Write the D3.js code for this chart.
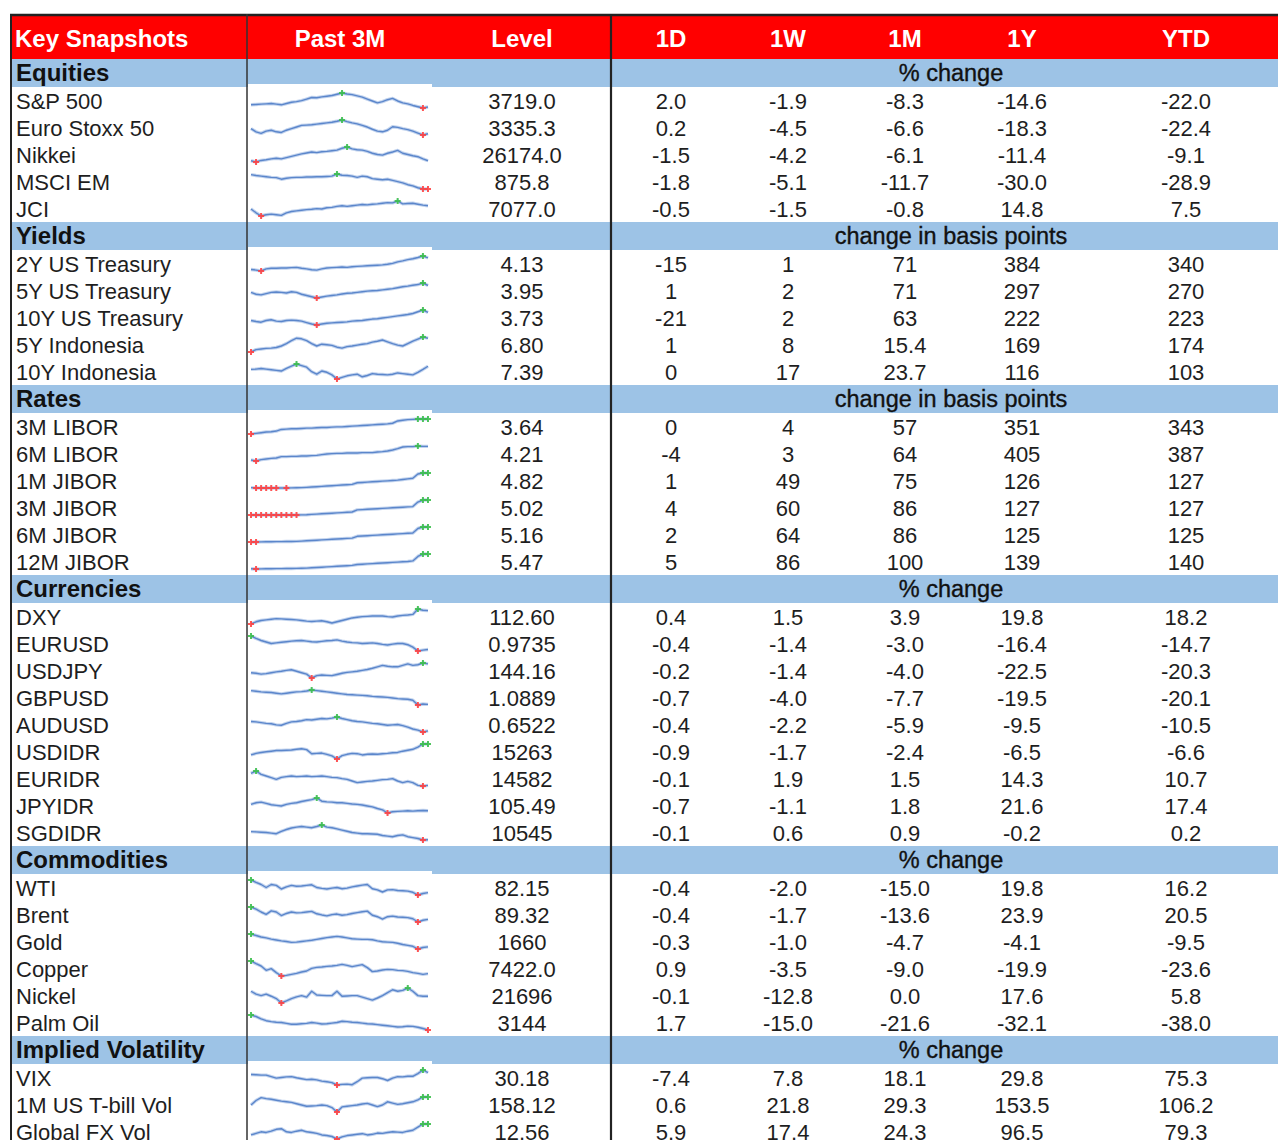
<!DOCTYPE html>
<html>
<head>
<meta charset="utf-8">
<script src="https://cdn.jsdelivr.net/npm/d3@7"></script>
<style>
html, body { margin: 0; padding: 0; background: #fff; }
svg { display: block; font-family: "Liberation Sans", Arial, Helvetica, sans-serif; }
</style>
</head>
<body>
<svg id="chart" width="1278" height="1140"></svg>
<script>
// ---- table data ----
const columns = ["Key Snapshots", "Past 3M", "Level", "1D", "1W", "1M", "1Y", "YTD"];
const sectionNames = ["Equities", "Yields", "Rates", "Currencies", "Commodities", "Implied Volatility"];
const sectionUnits = ["% change", "change in basis points", "change in basis points", "% change", "% change", "% change"];
const sectionSizes = [5, 5, 6, 9, 6, 3];

const rowNames = ["S&P 500", "Euro Stoxx 50", "Nikkei", "MSCI EM", "JCI",
    "2Y US Treasury", "5Y US Treasury", "10Y US Treasury", "5Y Indonesia", "10Y Indonesia",
    "3M LIBOR", "6M LIBOR", "1M JIBOR", "3M JIBOR", "6M JIBOR", "12M JIBOR",
    "DXY", "EURUSD", "USDJPY", "GBPUSD", "AUDUSD", "USDIDR", "EURIDR", "JPYIDR", "SGDIDR",
    "WTI", "Brent", "Gold", "Copper", "Nickel", "Palm Oil",
    "VIX", "1M US T-bill Vol", "Global FX Vol"];
const levels = ["3719.0", "3335.3", "26174.0", "875.8", "7077.0",
    "4.13", "3.95", "3.73", "6.80", "7.39",
    "3.64", "4.21", "4.82", "5.02", "5.16", "5.47",
    "112.60", "0.9735", "144.16", "1.0889", "0.6522", "15263", "14582", "105.49", "10545",
    "82.15", "89.32", "1660", "7422.0", "21696", "3144",
    "30.18", "158.12", "12.56"];
const chg1D = ["2.0", "0.2", "-1.5", "-1.8", "-0.5",
    "-15", "1", "-21", "1", "0",
    "0", "-4", "1", "4", "2", "5",
    "0.4", "-0.4", "-0.2", "-0.7", "-0.4", "-0.9", "-0.1", "-0.7", "-0.1",
    "-0.4", "-0.4", "-0.3", "0.9", "-0.1", "1.7",
    "-7.4", "0.6", "5.9"];
const chg1W = ["-1.9", "-4.5", "-4.2", "-5.1", "-1.5",
    "1", "2", "2", "8", "17",
    "4", "3", "49", "60", "64", "86",
    "1.5", "-1.4", "-1.4", "-4.0", "-2.2", "-1.7", "1.9", "-1.1", "0.6",
    "-2.0", "-1.7", "-1.0", "-3.5", "-12.8", "-15.0",
    "7.8", "21.8", "17.4"];
const chg1M = ["-8.3", "-6.6", "-6.1", "-11.7", "-0.8",
    "71", "71", "63", "15.4", "23.7",
    "57", "64", "75", "86", "86", "100",
    "3.9", "-3.0", "-4.0", "-7.7", "-5.9", "-2.4", "1.5", "1.8", "0.9",
    "-15.0", "-13.6", "-4.7", "-9.0", "0.0", "-21.6",
    "18.1", "29.3", "24.3"];
const chg1Y = ["-14.6", "-18.3", "-11.4", "-30.0", "14.8",
    "384", "297", "222", "169", "116",
    "351", "405", "126", "127", "125", "139",
    "19.8", "-16.4", "-22.5", "-19.5", "-9.5", "-6.5", "14.3", "21.6", "-0.2",
    "19.8", "23.9", "-4.1", "-19.9", "17.6", "-32.1",
    "29.8", "153.5", "96.5"];
const chgYTD = ["-22.0", "-22.4", "-9.1", "-28.9", "7.5",
    "340", "270", "223", "174", "103",
    "343", "387", "127", "127", "125", "140",
    "18.2", "-14.7", "-20.3", "-20.1", "-10.5", "-6.6", "10.7", "17.4", "0.2",
    "16.2", "20.5", "-9.5", "-23.6", "5.8", "-38.0",
    "75.3", "106.2", "79.3"];

// ---- past 3M sparklines (relative level) ----
const sp500 = [15,16,17,18,19,17,15,19,23,25,28,33,38,37,40,42,44,48,52,49,47,43,39,33,27,21,25,31,35,27,21,18,13,9,5,8];
const eurostoxx = [30,20,15,22,25,20,18,25,30,35,40,41,42,44,46,48,50,53,57,52,48,45,40,35,28,22,20,25,36,34,30,27,22,16,10,14];
const nikkei = [12,8,13,15,18,20,18,22,26,30,34,37,40,38,41,42,44,46,52,56,50,47,46,42,36,32,30,36,40,45,36,32,28,25,18,12];
const msciem = [55,52,50,48,46,45,40,43,45,46,46,47,47,48,48,49,50,57,53,52,50,46,50,48,42,40,38,40,36,32,28,22,18,12,8,8];
const jci = [30,18,8,12,14,12,10,18,22,24,26,28,29,31,30,34,35,38,40,38,40,42,44,43,45,46,48,50,49,55,46,47,48,45,42,40];
const ust2y = [10,8,5,12,14,14,15,15,16,17,14,12,9,8,12,15,16,17,18,17,19,20,21,22,23,24,25,27,30,35,38,42,45,49,54,48];
const ust5y = [20,14,12,16,20,21,20,18,22,20,14,10,6,2,5,8,10,12,15,17,18,20,22,24,25,26,28,30,32,35,38,40,43,45,50,42];
const ust10y = [20,17,15,20,22,18,17,20,21,20,18,14,10,7,10,12,13,14,15,16,18,19,20,22,24,25,27,29,31,33,35,37,40,45,50,43];
const indo5y = [2,10,12,14,15,17,22,30,40,48,46,40,30,22,28,26,24,18,15,20,22,25,28,30,35,38,42,36,30,25,22,30,38,45,52,48];
const indo10y = [35,36,38,36,34,32,30,38,45,52,47,42,28,20,30,26,18,5,10,15,18,20,12,16,22,20,19,18,20,24,22,20,18,26,35,45];
const libor3m = [7,9,11,13,14,16,21,22,23,23,24,25,25,26,27,27,28,29,29,30,31,32,33,34,35,36,37,38,40,47,49,51,52,53,53,53];
const libor6m = [10,7,11,13,15,16,20,20,21,21,22,22,23,24,26,28,29,30,30,31,31,31,32,32,32,34,35,37,40,44,49,50,50,52,51,51];
const jibor1m = [8,7,7,7,7,7,7.3,7,7.5,7.8,8,9,10,11,12,13,14,15,16,17,18,23,24,25,26,27,28,29,30,31,33,35,37,50,53,53];
const jibor3m = [5,5,5,5,5,5,5,5,5,5,5.5,6,7,8,9,10,11,12,13,14,15,22,23,24,25,26,27,28,29,30,31,32,33,48,55,55];
const jibor6m = [5,5,5.5,5.7,6,6.2,6.4,6.6,6.8,7,8,9,10,11,12,13,14,15,16,17,18,24,25,26,27,28,29,30,31,32,33,34,35,50,55,55];
const jibor12m = [4,3,3.5,3.7,4,4.2,4.4,4.6,4.8,5,5.5,6,7,8,9,10,11,12,13,14,15,18,19,20,21,22,23,24,25,26,27,28,30,45,53,53];
const dxy = [5,12,16,18,20,22,21,20,19,18,16,14,13,14,15,12,8,12,16,20,24,26,28,29,30,30,30,28,27,30,32,33,35,52,48,47];
const eurusd = [55,47,40,35,30,32,34,36,38,39,40,38,36,35,37,39,40,42,38,35,33,32,30,31,32,30,27,25,28,30,30,26,18,5,8,10];
const usdjpy = [25,23,20,22,25,28,30,33,35,30,25,20,7,15,17,16,15,19,23,26,28,30,33,36,40,45,50,47,45,45,50,55,50,52,58,55];
const gbpusd = [50,48,46,45,44,42,40,42,44,46,47,49,52,50,48,46,44,42,40,38,37,36,35,34,32,31,30,29,27,25,24,23,20,5,8,7];
const audusd = [35,34,32,30,29,26,25,30,34,35,37,40,39,41,43,42,44,47,43,40,37,35,34,32,30,29,27,25,26,27,24,20,15,12,7,10];
const usdidr = [20,25,28,30,32,34,34,35,36,38,40,37,24,25,26,22,17,7,18,22,25,24,20,22,23,22,24,25,27,28,32,35,38,45,55,55];
const euridr = [48,55,45,40,35,30,36,38,40,38,39,40,38,39,40,38,36,35,32,30,25,20,22,24,25,27,29,30,32,25,20,24,20,12,10,12];
const jpyidr = [35,40,42,38,34,32,30,35,38,40,44,47,50,55,45,43,42,40,40,38,36,35,33,30,27,22,18,8,12,13,14,15,14,15,16,15];
const sgdidr = [35,34,33,32,30,28,36,42,47,50,52,50,48,52,57,50,48,44,40,36,32,30,28,28,27,26,22,20,18,22,24,18,15,12,7,8];
const wti = [55,47,40,30,40,37,25,32,37,34,35,37,39,30,27,25,28,30,26,28,32,35,38,40,26,22,15,22,23,20,19,18,14,5,10,13];
const brent = [55,48,38,30,42,38,26,33,38,35,36,38,40,32,28,25,29,31,27,29,33,36,39,41,27,22,14,22,24,21,20,19,15,4,10,13];
const gold = [53,48,43,40,36,33,30,28,25,26,28,30,32,35,38,41,43,45,43,40,37,36,35,35,34,30,27,26,25,22,18,15,12,3,8,10];
const copper = [55,47,40,27,32,20,10,12,15,18,22,25,33,36,37,39,40,42,45,42,38,41,44,35,23,25,28,30,29,27,26,24,20,18,15,17];
const nickel = [45,35,30,35,28,20,5,12,20,26,30,25,45,32,31,30,30,45,28,29,30,30,25,20,15,22,30,40,50,45,48,56,45,30,28,28];
const palmoil = [55,50,42,36,33,31,30,27,24,24,26,27,30,28,25,26,28,30,34,33,31,30,28,26,25,23,21,19,17,15,16,18,17,14,10,5];
const vix = [42,41,40,40,35,30,32,34,35,31,28,25,26,24,20,18,15,7,9,10,8,18,30,31,32,32,28,22,30,35,34,36,36,45,57,48];
const tbillvol = [30,44,53,50,48,45,42,40,38,34,30,26,27,28,30,28,22,8,24,26,28,30,33,35,30,25,30,40,36,32,34,37,40,46,55,55];
const fxvol = [20,25,30,28,32,38,40,30,28,32,35,30,28,25,20,18,15,7,14,18,20,22,24,20,22,26,25,28,30,29,28,32,35,45,55,55];

const past3m = [sp500, eurostoxx, nikkei, msciem, jci,
    ust2y, ust5y, ust10y, indo5y, indo10y,
    libor3m, libor6m, jibor1m, jibor3m, jibor6m, jibor12m,
    dxy, eurusd, usdjpy, gbpusd, audusd, usdidr, euridr, jpyidr, sgdidr,
    wti, brent, gold, copper, nickel, palmoil,
    vix, tbillvol, fxvol];

// ---- layout ----
const W = 1278, H = 1140;
const left = 11, headTop = 16, headBottom = 59;
const bandH = 28, rowH = 27;
const red = "#ff0000", blue = "#9dc3e6", ink = "#1e1e1e";

const colX = d3.scaleOrdinal()
    .domain(columns)
    .range([15, 340, 522, 671, 788, 905, 1022, 1186]);
const valueCols = [levels, chg1D, chg1W, chg1M, chg1Y, chgYTD];

const svg = d3.select("#chart");

// rows: section bands then data rows
const bands = [], rows = [];
let y = headBottom, r = 0;
sectionNames.forEach((name, s) => {
    bands.push({ s: s, y: y });
    y += bandH;
    for (let k = 0; k < sectionSizes[s]; k++) {
        rows.push({ i: r++, y: y });
        y += rowH;
    }
});

// header
svg.append("rect")
    .attr("x", left).attr("y", headTop)
    .attr("width", W - left).attr("height", headBottom - headTop)
    .attr("fill", red);

svg.append("g")
    .selectAll("text")
    .data(columns)
    .enter().append("text")
    .attr("x", d => colX(d))
    .attr("y", 47)
    .attr("text-anchor", (d, i) => i === 0 ? "start" : "middle")
    .attr("fill", "#fff")
    .attr("font-weight", "bold")
    .attr("font-size", 24)
    .text(d => d);

// section bands
svg.append("g")
    .selectAll("rect")
    .data(bands)
    .enter().append("rect")
    .attr("x", left).attr("y", d => d.y)
    .attr("width", W - left).attr("height", bandH)
    .attr("fill", blue);

// white sparkline picture area (overlaps band bottom a little)
svg.append("g")
    .selectAll("rect")
    .data(bands)
    .enter().append("rect")
    .attr("x", 248).attr("y", d => d.y + bandH - 3)
    .attr("width", 184)
    .attr("height", (d, i) => (i < bands.length - 1 ? bands[i + 1].y : H) - (d.y + bandH - 3))
    .attr("fill", "#fff");

const bandText = svg.append("g");
bandText.selectAll(".bname")
    .data(bands)
    .enter().append("text")
    .attr("x", 16)
    .attr("y", d => d.y + 22)
    .attr("font-weight", "bold")
    .attr("font-size", 24)
    .attr("fill", "#111")
    .text(d => sectionNames[d.s]);
bandText.selectAll(".bunit")
    .data(bands)
    .enter().append("text")
    .attr("x", 951)
    .attr("y", d => d.y + 22)
    .attr("text-anchor", "middle")
    .attr("font-size", 23.5)
    .attr("fill", "#111")
    .attr("stroke", "#111")
    .attr("stroke-width", 0.35)
    .text(d => sectionUnits[d.s]);

// row labels and values
const rowText = svg.append("g").attr("font-size", 22).attr("fill", ink);
rowText.selectAll(".lab")
    .data(rows)
    .enter().append("text")
    .attr("x", 16)
    .attr("y", d => d.y + 22)
    .text(d => rowNames[d.i]);

valueCols.forEach((vals, c) => {
    rowText.selectAll(".v" + c)
        .data(rows)
        .enter().append("text")
        .attr("x", colX(columns[c + 2]))
        .attr("y", d => d.y + 22)
        .attr("text-anchor", "middle")
        .text(d => vals[d.i]);
});

// sparklines
const spark = svg.append("g");
const cross = d3.symbol().type(d3.symbolCross).size(20);
rows.forEach(row => {
    const vals = past3m[row.i];
    const sx = d3.scaleLinear().domain([0, vals.length - 1]).range([251, 428]);
    const sy = d3.scaleLinear().domain(d3.extent(vals)).range([row.y + 21, row.y + 6]);
    const line = d3.line().x((d, i) => sx(i)).y(d => sy(d));

    spark.append("path")
        .attr("d", line(vals))
        .attr("fill", "none")
        .attr("stroke", "#c3d4ee")
        .attr("stroke-width", 3.4)
        .attr("stroke-linejoin", "round");
    spark.append("path")
        .attr("d", line(vals))
        .attr("fill", "none")
        .attr("stroke", "#5b86cb")
        .attr("stroke-width", 1.4)
        .attr("stroke-linejoin", "round");

    const hi = d3.max(vals), lo = d3.min(vals);
    const marks = vals.map((v, i) => ({ i: i, v: v }))
        .filter(d => d.v === hi || d.v === lo);
    spark.selectAll(null)
        .data(marks)
        .enter().append("path")
        .attr("d", cross)
        .attr("transform", d => "translate(" + sx(d.i) + "," + sy(d.v) + ")")
        .attr("fill", d => d.v === hi ? "#3cbf4c" : "#ff4343")
        .attr("opacity", 0.9);
});

// borders and column rules
svg.append("line")
    .attr("x1", left - 1).attr("x2", W).attr("y1", 15).attr("y2", 15)
    .attr("stroke", "#222").attr("stroke-width", 2.5);
svg.append("line")
    .attr("x1", left).attr("x2", left).attr("y1", 14).attr("y2", H)
    .attr("stroke", "#222").attr("stroke-width", 2);
svg.append("line")
    .attr("x1", 247).attr("x2", 247).attr("y1", 14).attr("y2", H)
    .attr("stroke", "#333").attr("stroke-width", 1.5);
svg.append("line")
    .attr("x1", 611).attr("x2", 611).attr("y1", 14).attr("y2", H)
    .attr("stroke", "#222").attr("stroke-width", 2.2);
</script>
</body>
</html>
